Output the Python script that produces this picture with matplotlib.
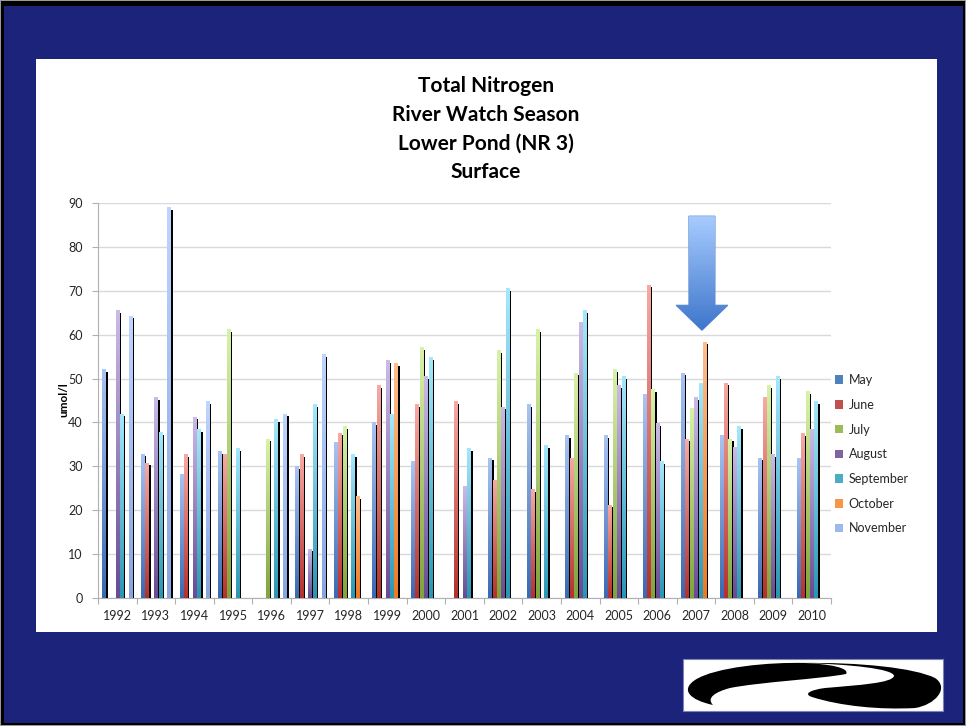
import numpy as np
import matplotlib
matplotlib.use("Agg")
import matplotlib.pyplot as plt
from matplotlib.colors import LinearSegmentedColormap
from matplotlib.patches import Rectangle, Polygon, PathPatch, Patch
from matplotlib.path import Path

# ---- data (umol/l), one list per sampling month, None = not sampled ----
years = [str(y) for y in range(1992, 2011)]
months = ["May", "June", "July", "August", "September", "October", "November"]

may = [52.1, 32.9, 28.3, 33.4, None, 30.0, 35.6, 40.0, 31.2, None,
       32.0, 44.2, 37.1, 37.1, 46.4, 51.3, 37.1, 32.0, 32.0]
june = [None, 30.8, 32.7, 32.9, None, 32.7, 37.7, 48.5, 44.2, 44.9,
        27.0, 24.8, 32.0, 21.3, 71.4, 36.3, 49.1, 45.7, 37.5]
july = [None, None, None, 61.3, 36.3, None, 39.1, None, 57.1, None,
        56.4, 61.3, 51.3, 52.1, 47.6, 43.4, 36.3, 48.5, 47.1]
august = [65.6, 45.8, 41.3, None, None, 11.2, None, 54.2, 50.6, 25.5,
          43.6, None, 62.8, 48.5, 39.9, 45.7, 34.3, 32.7, 38.5]
september = [42.0, 37.8, 38.5, 34.2, 40.7, 44.2, 32.7, 42.0, 54.8, 34.2,
             70.6, 34.8, 65.6, 50.6, 31.2, 49.1, 39.1, 50.6, 44.9]
october = [None, None, None, None, None, None, 23.2, 53.5, None, None,
           None, None, None, None, None, 58.4, None, None, None]
november = [64.3, 89.0, 44.9, None, 42.0, 55.6, None, None, None, None,
            None, None, None, None, None, None, None, None, None]

series = [may, june, july, august, september, october, november]

yticks = list(range(0, 100, 10))

# ---- styling ----
legend_colors = ["#4f81bd", "#c0504d", "#9bbb59", "#8064a2", "#4bacc6", "#f79646", "#9fb8ec"]
grad_bottom = ["#3a69b2", "#b5302c", "#80a33b", "#684b92", "#2996b4", "#ee7a22", "#86a5e0"]
grad_top = ["#aac4f3", "#f8aaa4", "#d8f3a8", "#cbbbe6", "#a5e8fc", "#ffbd8c", "#bfd5ff"]

navy = "#1b237a"
text_col = "#262626"
FONT = "Lato"

W, H = 966, 726
fig = plt.figure(figsize=(W / 100, H / 100), dpi=100)

# slide background, frame, white chart panel and logo box (pixel space)
bg = fig.add_axes([0, 0, 1, 1], zorder=0)
bg.set_xlim(0, W)
bg.set_ylim(H, 0)
bg.axis("off")
bg.add_patch(Rectangle((0, 0), W, H, facecolor="#9a9a9a", edgecolor="none"))
bg.add_patch(Rectangle((1, 1), W - 2, H - 2, facecolor="black", edgecolor="none"))
bg.add_patch(Rectangle((4, 6), W - 7, H - 9, facecolor=navy, edgecolor="none"))
bg.add_patch(Rectangle((36, 59), 901, 573, facecolor="white", edgecolor="none"))
bg.add_patch(Rectangle((683, 659), 260, 52, facecolor="white", edgecolor="#7d84b8", lw=0.8))

# river logo
C = Path.CURVE4
left_piece = [(713, 705), (690, 700), (680, 690), (695, 680),
              (715, 667), (770, 662), (805, 663),
              (830, 664), (850, 668), (846, 674),
              (820, 679), (760, 682), (730, 688),
              (715, 692), (706, 698), (713, 705)]
codes_l = [Path.MOVETO] + [C] * 15
bg.add_patch(PathPatch(Path(left_piece, codes_l), facecolor="black", edgecolor="none"))
right_piece = [(800, 663), (860, 662), (915, 668), (935, 678),
               (950, 688), (935, 705), (915, 708),
               (880, 710), (840, 706), (812, 697),
               (803, 694), (810, 690), (825, 688),
               (860, 685), (892, 683), (894, 676),
               (894, 669), (850, 664), (800, 663)]
codes_r = [Path.MOVETO] + [C] * 18
bg.add_patch(PathPatch(Path(right_piece, codes_r), facecolor="black", edgecolor="none"))

# title
title_lines = ["Total Nitrogen", "River Watch Season", "Lower Pond (NR 3)", "Surface"]
for line, base in zip(title_lines, [91.5, 121, 150, 178.5]):
    fig.text(486 / W, 1 - base / H, line, ha="center", va="baseline",
             fontsize=15, fontweight="bold", family=FONT, color="black")

# ---- chart ----
left, right, top, bottom = 98, 831, 203, 598
ax = fig.add_axes([left / W, 1 - bottom / H, (right - left) / W, (bottom - top) / H], zorder=2)
ax.set_facecolor("none")

n_years = len(years)
step = 0.114      # spacing between months inside a year cluster
front_w = 0.088   # lit front face of a column
side_w = 0.052    # dark side face of a column
grad = np.linspace(0, 1, 128).reshape(-1, 1)

for i, (vals, cb, ct) in enumerate(zip(series, grad_bottom, grad_top)):
    cmap = LinearSegmentedColormap.from_list(f"m{i}", [cb, ct])
    xs = [k + (i - 3) * step for k, v in enumerate(vals) if v is not None]
    hs = [v for v in vals if v is not None]
    z = 3 + 2 * i
    # dark side faces sit just right of the front faces
    ax.bar([x + front_w / 2 + side_w / 2 for x in xs], [h - 0.6 for h in hs],
           width=side_w, color="black", zorder=z, linewidth=0)
    bars = ax.bar(xs, hs, width=front_w, color=legend_colors[i], zorder=z + 1, linewidth=0)
    for rect in bars:
        x0 = rect.get_x()
        im = ax.imshow(grad, extent=(x0, x0 + rect.get_width(), 0, rect.get_height()),
                       origin="lower", aspect="auto", cmap=cmap, zorder=z + 1,
                       interpolation="bilinear")
        im.set_clip_path(rect)

# highlight arrow over 2007
c = years.index("2007") + 0.155
arrow_pts = [(c - 0.337, 87.0), (c + 0.337, 87.0), (c + 0.337, 66.7), (c + 0.67, 66.7),
             (c, 61.0), (c - 0.67, 66.7), (c - 0.337, 66.7)]
arrow = Polygon(arrow_pts, closed=True, facecolor="#6d9ee6", edgecolor="#5a88cc",
                lw=0.8, zorder=30)
ax.add_patch(arrow)
acmap = LinearSegmentedColormap.from_list("arrow", ["#3e76cc", "#a9ccff"])
aim = ax.imshow(np.linspace(0, 1, 128).reshape(-1, 1), extent=(c - 0.7, c + 0.7, 61.0, 87.0),
                origin="lower", aspect="auto", cmap=acmap, zorder=31, interpolation="bilinear")
aim.set_clip_path(arrow)

ax.set_xlim(-0.5, n_years - 0.5)
ax.set_ylim(0, 90)
ax.set_yticks(yticks)
ax.set_yticklabels([str(t) for t in yticks], family=FONT, fontsize=9, color=text_col)
ax.set_xticks(range(n_years))
ax.set_xticklabels(years, family=FONT, fontsize=9, color=text_col)
ax.set_xticks(np.arange(-0.5, n_years, 1.0), minor=True)
ax.tick_params(axis="x", which="major", length=0, pad=9)
ax.tick_params(axis="x", which="minor", length=4, color="#b0b0b0", width=0.8)
ax.tick_params(axis="y", length=4, color="#b0b0b0", width=0.8, pad=7)
ax.grid(axis="y", color="#d9d9d9", linewidth=1.0, zorder=1)
ax.set_axisbelow(True)
for s in ["top", "right"]:
    ax.spines[s].set_visible(False)
for s in ["left", "bottom"]:
    ax.spines[s].set_color("#b0b0b0")
    ax.spines[s].set_linewidth(0.8)

fig.text(64 / W, 1 - 400 / H, "umol/l", rotation=90, ha="center", va="center",
         fontsize=8.5, fontweight="bold", family=FONT, color="black")

handles = [Patch(facecolor=col, edgecolor="none") for col in legend_colors]
ax.legend(handles, months, loc="upper left", bbox_to_anchor=(835 / W, 1 - 374 / H),
          bbox_transform=fig.transFigure, frameon=False, handlelength=0.65,
          handleheight=0.65, handletextpad=0.45, labelspacing=1.02, borderpad=0,
          borderaxespad=0, prop={"family": FONT, "size": 9}, labelcolor=text_col)

fig.savefig("out.png", dpi=100)
